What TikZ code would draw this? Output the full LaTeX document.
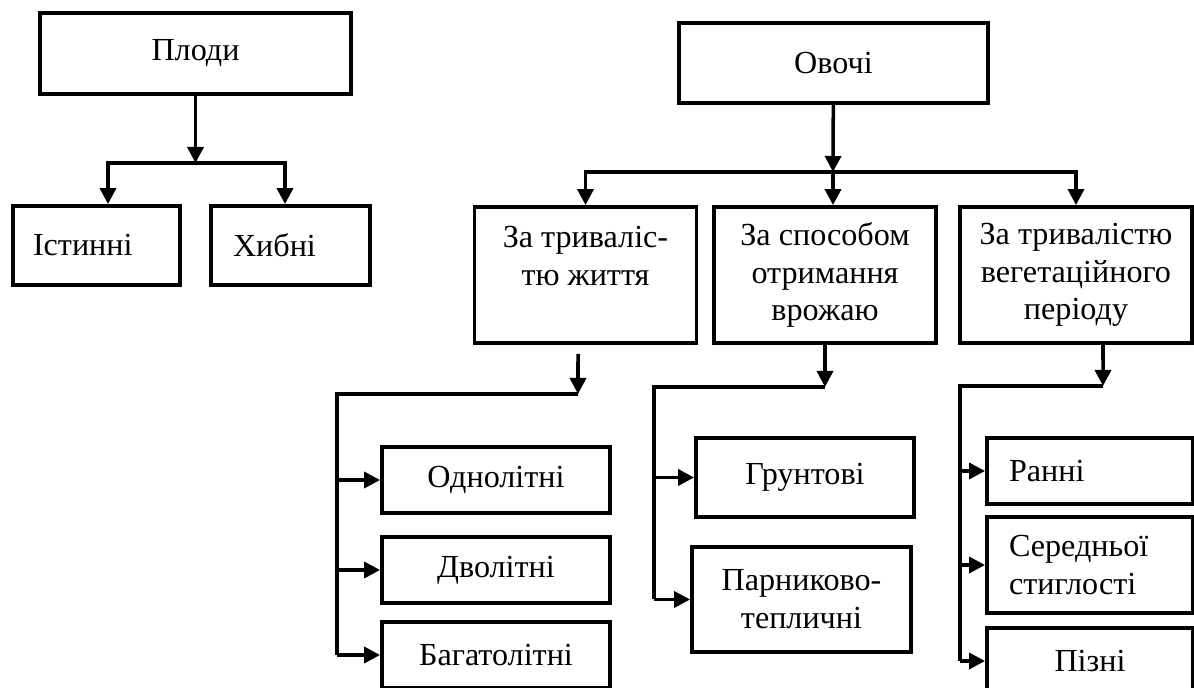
\documentclass[tikz,border=0pt]{standalone}
\usepackage{fontspec}
\setmainfont{Liberation Serif}
\usetikzlibrary{arrows.meta}

\begin{document}
\begin{tikzpicture}[x=0.02cm, y=-0.02cm,
  >={Triangle[length=0.32cm,width=0.32cm]},
  box/.style={draw, line width=2.2pt, inner sep=0pt, align=center,
    font=\fontsize{18.3}{21.5}\selectfont},
  leftbox/.style={box, align=left, inner xsep=0.44cm},
  link/.style={line width=2pt}]
\useasboundingbox (0,0) rectangle (1194,688);

% Fruits
\node[box, minimum width=6.22cm, minimum height=1.62cm] (plody) at (195.5,53.5) {Плоди};
\node[leftbox, inner xsep=0.4cm, text width=2.54cm, minimum height=1.58cm] (istynni) at (96.5,245.5) {Істинні};
\node[leftbox, text width=2.30cm, minimum height=1.58cm] (khybni) at (290.5,245.5) {Хибні};

\coordinate (plJ) at (195.5,163);
\draw[link, ->] (plody) -- (plJ);
\draw[link, ->] (plJ) -| ([xshift=0.23cm]istynni.north);
\draw[link, ->] (plJ) -| ([xshift=-0.11cm]khybni.north);

% Vegetables
\node[box, minimum width=6.18cm, minimum height=1.6cm] (ovochi) at (833.5,63) {Овочі};
\node[box, minimum width=4.44cm, minimum height=2.72cm] (zhyttia) at (585.5,275) {За триваліс-\\тю життя\\ \mbox{}};
\node[box, minimum width=4.44cm, minimum height=2.72cm] (sposib) at (825,275) {За способом\\отримання\\врожаю};
\node[box, minimum width=4.64cm, minimum height=2.72cm] (vehet) at (1076,275) {За тривалістю\\вегетаційного\\періоду};

\coordinate (ovJ) at (833,172);
\draw[link, ->] (ovochi) -- (ovJ);
\draw[link, ->] (ovJ) -| (zhyttia);
\draw[link, ->] (ovJ) -- (ovJ |- sposib.north);
\draw[link, ->] (ovJ) -| (vehet);

% Life span
\node[box, minimum width=4.56cm, minimum height=1.32cm] (odnolitni) at (496,480) {Однолітні};
\node[box, minimum width=4.56cm, minimum height=1.32cm] (dvolitni) at (496,570) {Дволітні};
\node[box, minimum width=4.56cm, minimum height=1.32cm] (bahatolitni) at (496,655) {Багатолітні};

\coordinate (zhJ) at (578,394);
\coordinate (zhL) at (337,394);
\draw[link, ->] ([xshift=-0.15cm, yshift=-0.18cm]zhyttia.south) -- (zhJ);
\draw[link] (zhJ) -- (zhL) -- (zhL |- bahatolitni);
\foreach \n in {odnolitni,dvolitni,bahatolitni}
  \draw[link, ->] (zhL |- \n) -- (\n);

% Way of growing
\node[box, minimum width=4.36cm, minimum height=1.58cm] (gruntovi) at (805,477.5) {Грунтові};
\node[box, minimum width=4.38cm, minimum height=2.1cm] (parnykovi) at (801.5,599.5) {Парниково-\\тепличні};

\coordinate (spJ) at (825,387);
\coordinate (spL) at (654,387);
\draw[link, ->] (sposib) -- (spJ);
\draw[link] (spJ) -- (spL) -- (spL |- parnykovi);
\foreach \n in {gruntovi,parnykovi}
  \draw[link, ->] (spL |- \n) -- (\n);

% Growing season
\node[leftbox, text width=3.24cm, minimum height=1.32cm] (ranni) at (1090,471) {Ранні};
\node[leftbox, text width=3.24cm, minimum height=1.92cm] (serednoi) at (1090,565) {Середньої\\стиглості};
\node[box, minimum width=4.12cm, minimum height=1.32cm] (pizni) at (1090,661) {Пізні};

\coordinate (veJ) at (1103,386);
\coordinate (veL) at (960,386);
\draw[link, ->] ([xshift=0.54cm]vehet.south) -- (veJ);
\draw[link] (veJ) -- (veL) -- (veL |- pizni);
\foreach \n in {ranni,serednoi,pizni}
  \draw[link, ->] (veL |- \n) -- (\n);

\end{tikzpicture}
\end{document}
